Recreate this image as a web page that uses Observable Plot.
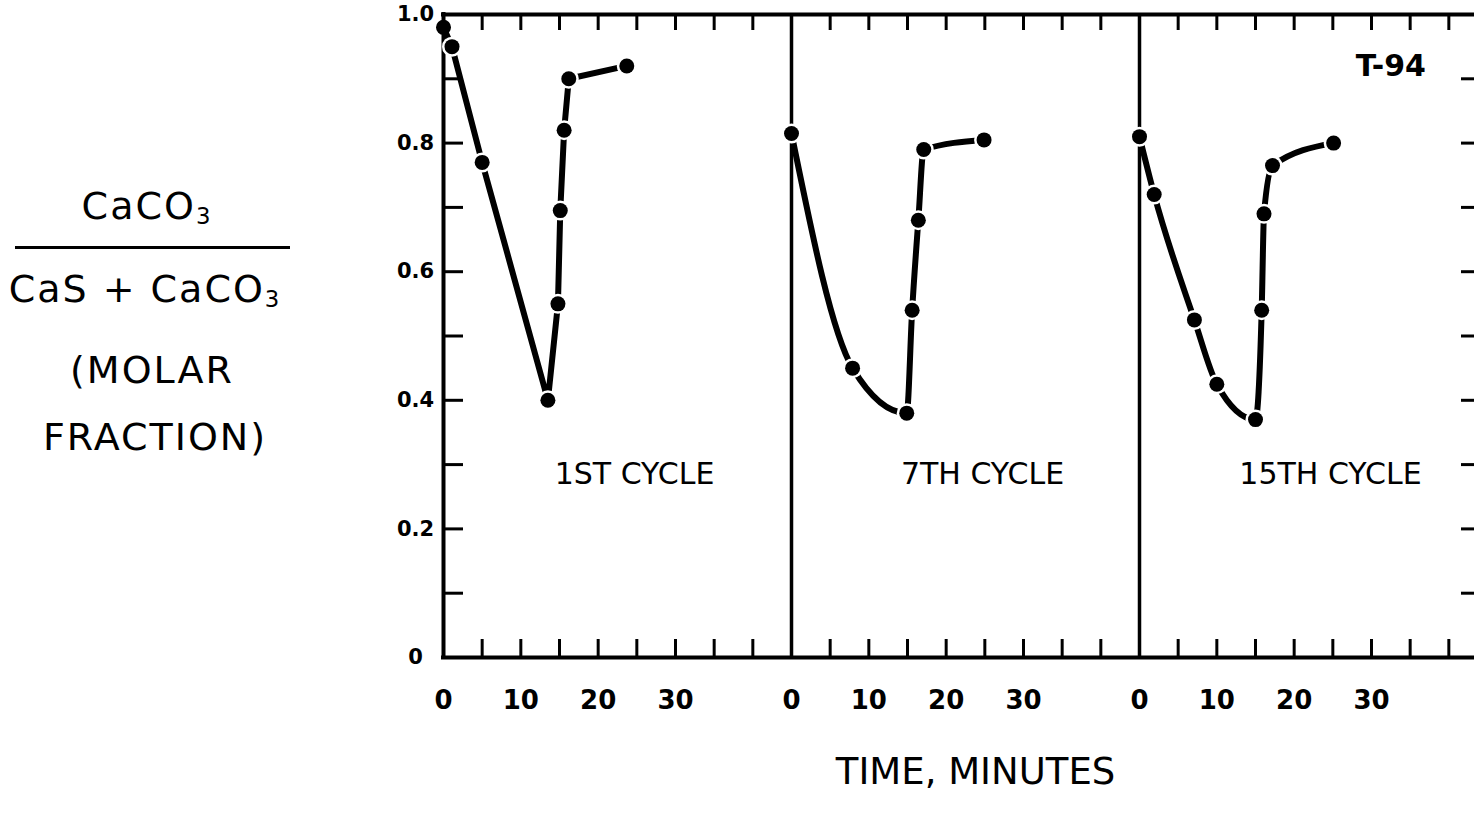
<!DOCTYPE html>
<html>
<head>
<meta charset="utf-8">
<script src="https://cdn.jsdelivr.net/npm/d3@7"></script>
<script src="https://cdn.jsdelivr.net/npm/@observablehq/plot@0.6"></script>
<style>
  html, body { margin: 0; padding: 0; background: #fff; overflow: hidden; }
  #wrap { position: relative; width: 1474px; height: 816px; }
  #ylabel { position: absolute; left: 0; top: 0; width: 300px; height: 500px;
            font-family: "DejaVu Sans", sans-serif; color: #000; }
  #ylabel .ln { position: absolute; width: 300px; text-align: center;
                font-size: 38px; line-height: 38px; letter-spacing: 2px; white-space: nowrap; }
  #ylabel .ln sub { font-size: 60%; vertical-align: -0.2em; line-height: 0; }
  #ylabel .bar { position: absolute; left: 15px; width: 275px; top: 246px; height: 3px; background: #000; }
</style>
</head>
<body>
<div id="wrap">
  <div id="ylabel">
    <div class="ln" style="top:187px;left:-3px">CaCO<sub>3</sub></div>
    <div class="bar"></div>
    <div class="ln" style="top:270px;left:-5px">CaS + CaCO<sub>3</sub></div>
    <div class="ln" style="top:351px;left:2px">(MOLAR</div>
    <div class="ln" style="top:418px;left:5px">FRACTION)</div>
  </div>
  <div id="chart"></div>
</div>
<script>
// Molar fraction CaCO3 / (CaS + CaCO3) during successive cycles of run T-94
const cycleNames = ["1ST CYCLE", "7TH CYCLE", "15TH CYCLE"];

const cycle1Minutes  = [0, 1.1, 5.0, 13.5, 14.8, 15.1, 15.6, 16.2, 23.7];
const cycle1Fraction = [0.98, 0.95, 0.77, 0.40, 0.55, 0.695, 0.82, 0.90, 0.92];

const cycle7Minutes  = [0, 7.9, 14.9, 15.6, 16.4, 17.1, 24.9];
const cycle7Fraction = [0.815, 0.45, 0.38, 0.54, 0.68, 0.79, 0.805];

const cycle15Minutes  = [0, 1.9, 7.1, 10.0, 15.0, 15.8, 16.1, 17.2, 25.1];
const cycle15Fraction = [0.81, 0.72, 0.525, 0.425, 0.37, 0.54, 0.69, 0.765, 0.80];

const timeTickLabels = [0, 10, 20, 30];
const timeTicks = [5, 10, 15, 20, 25, 30, 35, 40];
const fractionTickLabels = [0, 0.2, 0.4, 0.6, 0.8, 1.0];
const fractionTicks = [0.1, 0.2, 0.3, 0.4, 0.5, 0.6, 0.7, 0.8, 0.9];
const runLabel = "T-94";
const axisTitle = "TIME, MINUTES";

// each cycle gets its own 45-minute panel laid side by side on one time axis
const PANEL = 45;
const series = [
  {name: cycleNames[0], minutes: cycle1Minutes, fraction: cycle1Fraction},
  {name: cycleNames[1], minutes: cycle7Minutes, fraction: cycle7Fraction},
  {name: cycleNames[2], minutes: cycle15Minutes, fraction: cycle15Fraction}
];
const rows = series.flatMap((s, i) => s.minutes.map((t, j) => ({
  cycle: s.name, panel: i, t, x: i * PANEL + t, y: s.fraction[j]
})));
const panels = series.map((s, i) => ({name: s.name, start: i * PANEL}));
const bounds = d3.range(series.length + 1).map(i => i * PANEL);
const xTicks = panels.flatMap(p => timeTicks.map(t => p.start + t));
const xLabels = panels.flatMap(p => timeTickLabels.map(t => p.start + t));

const chart = Plot.plot({
  width: 1474,
  height: 816,
  marginLeft: 443,
  marginRight: 0,
  marginTop: 14,
  marginBottom: 159,
  style: {fontFamily: "DejaVu Sans, sans-serif", color: "#000", background: "#fff", overflow: "hidden"},
  x: {domain: [0, PANEL * series.length], range: [443, 1487]},
  y: {domain: [0, 1], range: [657, 14]},
  marks: [
    // frame: top and bottom edges, outer sides and panel dividers
    Plot.ruleY([0, 1], {strokeWidth: 4, strokeLinecap: "square"}),
    Plot.ruleX([bounds[0], bounds[bounds.length - 1]], {strokeWidth: 4, strokeLinecap: "square"}),
    Plot.ruleX(bounds.slice(1, -1), {strokeWidth: 3.5}),

    // inward tick marks on all four sides
    Plot.axisY(fractionTicks, {anchor: "left", tickSize: 20, dx: 20, fill: "none", strokeWidth: 3, label: null}),
    Plot.axisY(fractionTicks, {anchor: "right", tickSize: 14, dx: -14, fill: "none", strokeWidth: 3, label: null}),
    Plot.axisX(xTicks, {anchor: "bottom", tickSize: 18, dy: -18, fill: "none", strokeWidth: 3, label: null}),
    Plot.axisX(xTicks, {anchor: "top", tickSize: 15, dy: 15, fill: "none", strokeWidth: 3, label: null}),

    // tick labels
    Plot.axisY(fractionTickLabels, {
      anchor: "left", tickSize: 0, tickPadding: 28, textAnchor: "middle",
      tickFormat: d => d === 0 ? "0" : d.toFixed(1), fontSize: 21, fontWeight: "bold", label: null
    }),
    Plot.axisX(xLabels, {
      anchor: "bottom", tickSize: 0, tickPadding: 43, lineAnchor: "middle",
      tickFormat: d => String(d % PANEL), fontSize: 26, fontWeight: "bold", label: null
    }),

    // measured fractions
    Plot.line(rows, {filter: d => d.panel === 0, x: "x", y: "y", z: "cycle",
      stroke: "#000", strokeWidth: 6, strokeLinecap: "round", strokeLinejoin: "round", curve: "linear"}),
    Plot.line(rows, {filter: d => d.panel > 0, x: "x", y: "y", z: "cycle",
      stroke: "#000", strokeWidth: 6, strokeLinecap: "round", strokeLinejoin: "round", curve: "monotone-x"}),
    Plot.dot(rows, {filter: d => !(d.panel === 0 && d.t === 0), x: "x", y: "y", r: 10, fill: "#fff"}),
    Plot.dot(rows, {x: "x", y: "y", r: 7.5, fill: "#000"}),

    // annotations
    Plot.text(panels, {x: d => d.start + 24.7, y: 0.285, text: "name", fontSize: 30, ariaLabel: "cycle"}),
    Plot.text([runLabel], {x: 2 * PANEL + 32.5, y: 0.92, text: d => d, fontSize: 30, fontWeight: "bold", ariaLabel: "run"}),
    Plot.text([axisTitle], {x: 68.8, frameAnchor: "bottom", dy: 126, text: d => d, fontSize: 37, ariaLabel: "title"})
  ]
});

d3.select(chart).selectAll('g[aria-label="title"] text').style("letter-spacing", "4.5px");
d3.select(chart).selectAll('g[aria-label="cycle"] text').style("letter-spacing", "1.5px");
d3.select(chart).selectAll('g[aria-label="run"] text').style("letter-spacing", "2px");
document.getElementById("chart").appendChild(chart);
</script>
</body>
</html>
